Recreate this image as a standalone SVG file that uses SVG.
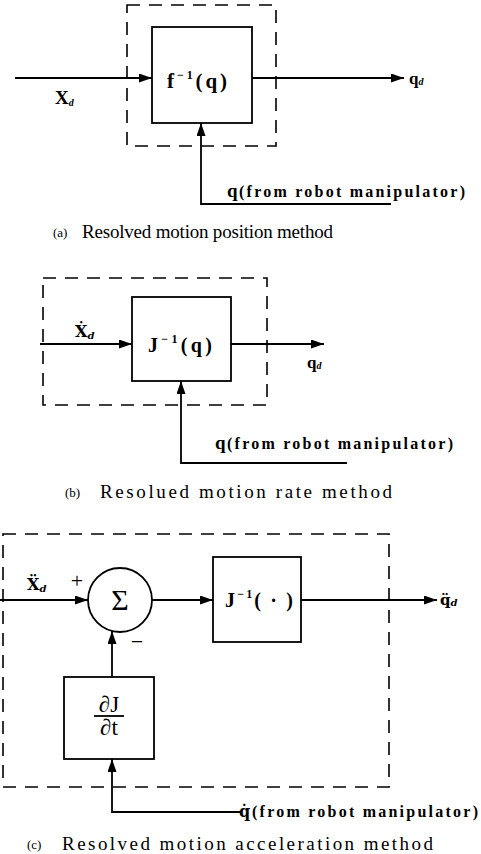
<svg xmlns="http://www.w3.org/2000/svg" width="481" height="854" viewBox="0 0 481 854">
<style>
.dash{fill:none;stroke:#000;stroke-width:1.6;stroke-dasharray:13 9}
.box{fill:#fff;stroke:#000;stroke-width:1.8}
.ln{fill:none;stroke:#000;stroke-width:1.8}
.arr{fill:none;stroke:#000;stroke-width:1.8;marker-end:url(#ah)}
.t{font-family:"Liberation Serif","DejaVu Serif",serif;font-weight:bold;fill:#000}
.dv{font-family:"DejaVu Serif","Liberation Serif",serif;font-weight:bold;fill:#000}
.lab{font-family:"Liberation Serif","DejaVu Serif",serif;font-weight:bold;font-size:16px;fill:#000}
.cap{font-family:"Liberation Serif","DejaVu Serif",serif;font-size:19px;fill:#000}
.capl{font-family:"Liberation Serif","DejaVu Serif",serif;font-size:13px;fill:#000}
.frac{font-family:"Liberation Serif","DejaVu Serif",serif;font-size:23px;fill:#000}
.sub{font-size:10px;font-style:italic}
</style>
<defs>
<marker id="ah" markerUnits="userSpaceOnUse" markerWidth="14" markerHeight="10" refX="13" refY="4.5" orient="auto">
<path d="M0,0 L13,4.5 L0,9 z" fill="#000"/>
</marker>
</defs>

<!-- Panel (a) -->
<g id="panel-a">
<rect class="dash" x="127" y="5" width="149" height="141"/>
<g id="a-finv">
<rect class="box" x="152" y="27" width="100" height="96"/>
<text class="t" x="167" y="88" font-size="21" textLength="60" lengthAdjust="spacing">f<tspan font-size="12" dy="-9">−1</tspan><tspan dy="9">(q)</tspan></text>
</g>
<text class="t" x="55" y="104" font-size="19">X<tspan class="sub" dy="2">d</tspan></text>
<text class="t" x="409" y="84" font-size="17">q<tspan class="sub" dy="1">d</tspan></text>
<text class="t" x="227" y="197" font-size="19">q</text>
<text class="lab" x="239" y="197" textLength="226" lengthAdjust="spacing">(from robot manipulator)</text>
<text class="capl" x="53" y="237">(a)</text>
<text class="cap" x="82" y="238" textLength="251" lengthAdjust="spacing">Resolved motion position method</text>
</g>

<!-- Panel (b) -->
<g id="panel-b">
<rect class="dash" x="43" y="278" width="224" height="127"/>
<g id="b-jinv">
<rect class="box" x="132" y="297" width="99" height="84"/>
<text class="t" x="148" y="352" font-size="20" textLength="64" lengthAdjust="spacing">J<tspan font-size="12" dy="-9">−1</tspan><tspan dy="9">(q)</tspan></text>
</g>
<text class="dv" x="75" y="337" font-size="16">Ẋ<tspan class="sub" dy="2">d</tspan></text>
<text class="t" x="307" y="368" font-size="17">q<tspan class="sub" dy="1">d</tspan></text>
<text class="t" x="215" y="449" font-size="19">q</text>
<text class="lab" x="227" y="449" textLength="226" lengthAdjust="spacing">(from robot manipulator)</text>
<text class="capl" x="65" y="497">(b)</text>
<text class="cap" x="100" y="498" textLength="292" lengthAdjust="spacing">Resolued motion rate method</text>
</g>

<!-- Panel (c) -->
<g id="panel-c">
<rect class="dash" x="3" y="534" width="386" height="253"/>
<g id="c-sum">
<circle class="box" cx="120" cy="600" r="32"/>
<text x="120" y="610" font-size="30" text-anchor="middle" style="font-family:'Liberation Serif',serif;font-weight:normal">Σ</text>
</g>
<g id="c-jinv">
<rect class="box" x="213" y="557" width="88" height="85"/>
<text class="t" x="225" y="607" font-size="20" textLength="68" lengthAdjust="spacing">J<tspan font-size="12" dy="-9">−1</tspan><tspan dy="9">( · )</tspan></text>
</g>
<g id="c-djdt">
<rect class="box" x="64" y="677" width="90" height="82"/>
<text class="frac" x="109" y="712" text-anchor="middle">∂J</text>
<line class="ln" x1="94" y1="716" x2="124" y2="716"/>
<text class="frac" x="109" y="735" text-anchor="middle">∂t</text>
</g>
<text class="dv" x="27" y="590" font-size="16">Ẍ<tspan class="sub" dy="2">d</tspan></text>
<text class="cap" x="77" y="588" text-anchor="middle" style="font-size:22px">+</text>
<text class="cap" x="137" y="649" text-anchor="middle" style="font-size:22px">−</text>
<text class="dv" x="440" y="605" font-size="15">q̈<tspan class="sub" dy="1">d</tspan></text>
<text class="dv" x="239" y="817" font-size="16">q̇</text>
<text class="lab" x="252" y="817" textLength="226" lengthAdjust="spacing">(from robot manipulator)</text>
<text class="capl" x="27" y="849">(c)</text>
<text class="cap" x="62" y="850" textLength="371" lengthAdjust="spacing">Resolved motion acceleration method</text>
</g>

<!-- Connectors -->
<g id="connectors">
<line class="arr" x1="15" y1="78" x2="152" y2="78"/>
<line class="arr" x1="252" y1="78" x2="404" y2="78"/>
<path class="arr" d="M391,204 H201 V123"/>

<line class="arr" x1="40" y1="344" x2="132" y2="344"/>
<line class="arr" x1="231" y1="344" x2="324" y2="344"/>
<path class="arr" d="M347,463 H181 V381"/>

<line class="arr" x1="0" y1="600" x2="88" y2="600"/>
<line class="arr" x1="152" y1="600" x2="213" y2="600"/>
<line class="arr" x1="301" y1="600" x2="437" y2="600"/>
<line class="arr" x1="112" y1="677" x2="112" y2="631"/>
<path class="arr" d="M240,812 H112 V759"/>
</g>
</svg>
